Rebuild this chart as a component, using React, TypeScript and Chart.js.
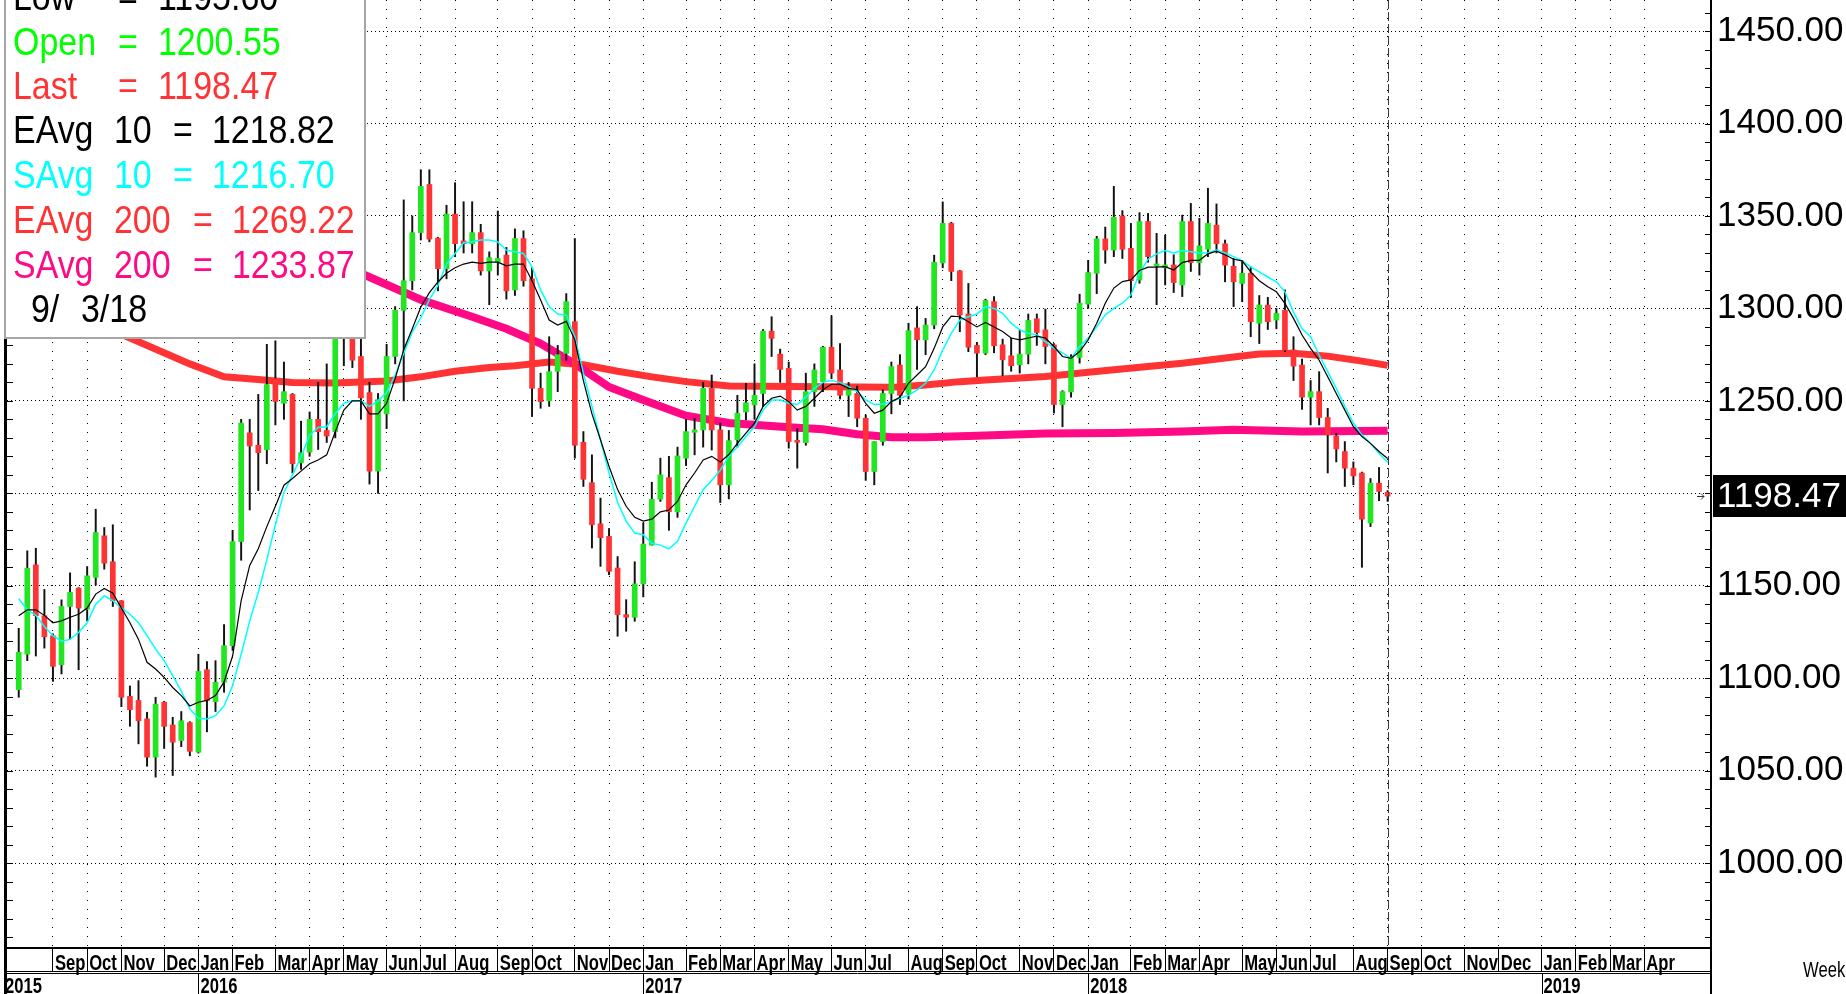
import React, { useEffect, useRef } from 'react';
import { Chart, registerables } from 'chart.js';

Chart.register(...registerables);

const W = 1846;
const H = 994;

// Weekly bars, week index 0 = week of 10 Aug 2015, last = week of 3 Sep 2018
const OPEN = [
  1093.8, 1113, 1161.3, 1133.8, 1123, 1107.3, 1138.8, 1148.7, 1137.4, 1154.5,
  1177, 1163, 1141.9, 1090.2, 1088, 1078, 1057.3, 1087, 1074.7, 1066.3,
  1076, 1060, 1104.6, 1087.3, 1097.8, 1117.6, 1173.9, 1232.7, 1226, 1223.6,
  1262, 1248.7, 1253.6, 1216.5, 1222.3, 1240, 1234, 1233.3, 1288, 1294,
  1274, 1254.5, 1212, 1243, 1274, 1299, 1315, 1341, 1367, 1338,
  1321.5, 1351, 1336.5, 1335, 1341, 1320.3, 1325, 1328.8, 1310, 1337.8,
  1316, 1256.8, 1250, 1266, 1275.7, 1292.8, 1227.6, 1205.8, 1183.5, 1176.7,
  1159.6, 1134.4, 1133, 1151, 1172, 1196.8, 1208.5, 1190, 1219, 1233,
  1234.3, 1256.8, 1234.3, 1204.6, 1229, 1244, 1247.8, 1254, 1287.7, 1275.3,
  1267.6, 1228.5, 1227.4, 1255, 1260.4, 1279, 1266.7, 1253, 1254, 1240.6,
  1211.8, 1228, 1254, 1269.4, 1254, 1289.5, 1283, 1291, 1324.6, 1346,
  1320.3, 1297, 1280, 1275.8, 1303.7, 1280.3, 1274.4, 1269.5, 1275.3, 1294.4,
  1288.4, 1280.3, 1248, 1254.8, 1273.5, 1302.3, 1319, 1337.6, 1331.6, 1350,
  1332.5, 1315.4, 1347, 1323, 1322, 1323.5, 1312.7, 1347, 1324.8, 1332,
  1345, 1335, 1322.8, 1313.5, 1319, 1292, 1301.8, 1293.7, 1299, 1277.5,
  1269.4, 1252, 1255, 1241, 1231, 1222.6, 1213.6, 1211, 1184, 1205.5,
  1200.55,
];
const HIGH = [
  1127, 1168.9, 1170.3, 1148, 1124, 1142.4, 1157, 1149, 1160.4, 1191.4,
  1181.5, 1183, 1142, 1095.8, 1098.7, 1081.6, 1089.7, 1087.5, 1078.9, 1082,
  1076.5, 1113, 1109, 1109.5, 1129, 1180, 1240, 1240, 1253.5, 1280.6,
  1282.5, 1271, 1254, 1239, 1244, 1260, 1270, 1293, 1303, 1296,
  1285, 1260, 1254, 1280.6, 1301, 1358.7, 1350, 1375, 1375, 1338.5,
  1355.8, 1368, 1357.7, 1357.7, 1345.5, 1330.6, 1352.7, 1333, 1343, 1342,
  1322, 1265, 1284.7, 1280, 1308, 1337.8, 1233.4, 1220.8, 1197.4, 1181,
  1165.8, 1142.5, 1163, 1184, 1206, 1219, 1220, 1225, 1240, 1240.6,
  1260, 1264, 1238, 1234, 1253, 1259.5, 1270, 1288.6, 1295.5, 1278,
  1271, 1235, 1265, 1270, 1279.5, 1296, 1281, 1260, 1258, 1242.4,
  1228, 1256, 1271, 1275, 1292, 1301, 1294.6, 1328.8, 1357.6, 1346.6,
  1320.5, 1313.5, 1281.6, 1305, 1306.4, 1283.4, 1284, 1288.4, 1297, 1297,
  1299.6, 1281, 1255.5, 1275, 1307.7, 1326, 1339, 1344, 1366, 1352.9,
  1346, 1351.8, 1351.4, 1340.6, 1339.7, 1329, 1350.5, 1356.8, 1348.7, 1365,
  1356.5, 1337, 1327, 1326, 1322.5, 1307, 1306, 1300, 1310, 1284.7,
  1272.6, 1261, 1265.8, 1246, 1232.5, 1228, 1217, 1211.5, 1208, 1214,
  1201.5,
];
const LOW = [
  1089.7, 1109.5, 1112, 1116.3, 1098.3, 1102.3, 1121, 1104.6, 1131, 1150.3,
  1159, 1138.8, 1084.6, 1074, 1064.5, 1052.4, 1046.5, 1062, 1047.4, 1063,
  1058, 1059.5, 1071, 1082, 1092.4, 1115, 1163.8, 1191, 1201.5, 1216,
  1237, 1240, 1211, 1213, 1220, 1223.7, 1227.5, 1230, 1269, 1268,
  1240, 1205, 1200, 1235, 1270, 1250, 1310, 1337, 1336, 1309.5,
  1316, 1328, 1330, 1330, 1318, 1302, 1318, 1305, 1307, 1312,
  1241.5, 1246, 1247, 1255, 1272, 1219, 1203.7, 1170.4, 1160.5, 1156,
  1122.7, 1125.4, 1130.8, 1144, 1172, 1195.6, 1180, 1187, 1215, 1220.8,
  1225, 1223.4, 1195, 1197, 1225, 1239.7, 1240, 1247, 1274, 1260,
  1224.4, 1213.6, 1226, 1247, 1255, 1262, 1251, 1241.5, 1236, 1207,
  1204.6, 1226, 1243, 1248, 1251, 1267, 1275, 1289, 1322, 1315,
  1287.4, 1276.6, 1263, 1275, 1276, 1263.6, 1266, 1265, 1270, 1280,
  1270, 1243.4, 1236, 1252, 1270.4, 1300, 1308, 1324.4, 1328, 1327,
  1306, 1313.6, 1325, 1302, 1312.7, 1308.6, 1306.4, 1320, 1318, 1328,
  1330, 1314.4, 1301, 1303.6, 1284.7, 1281, 1288.6, 1289, 1276.6, 1261,
  1245.4, 1237, 1237, 1211, 1217, 1203.7, 1204.6, 1160, 1182, 1196,
  1195.6,
];
const CLOSE = [
  1114, 1159.5, 1133.8, 1122.4, 1106.4, 1138.8, 1146.4, 1137.9, 1155.4, 1178.8,
  1162.2, 1141.9, 1089.7, 1083, 1077, 1057.3, 1086, 1074, 1065.4, 1077,
  1060.5, 1103.7, 1087.9, 1097.8, 1117.6, 1173.9, 1238, 1225.6, 1222, 1258.8,
  1249.7, 1255, 1216, 1222, 1240, 1233.3, 1231, 1285.4, 1294, 1272,
  1251.6, 1212, 1250.7, 1274, 1299, 1315, 1341, 1366, 1337.5, 1321.5,
  1351, 1335, 1335, 1341, 1320.3, 1327.5, 1327, 1309.5, 1337.8, 1315,
  1256.8, 1249.6, 1265.8, 1275, 1303.6, 1226, 1207.6, 1183, 1176, 1157.8,
  1134.4, 1133, 1151, 1172.5, 1196.8, 1210, 1190, 1220.2, 1233.4, 1234.3,
  1256.8, 1234.3, 1204.6, 1228.5, 1243.3, 1249, 1253, 1287.7, 1283.8, 1267,
  1228, 1227.6, 1255, 1266.7, 1279, 1265, 1253, 1256, 1240.6, 1211.8,
  1228, 1254, 1268.5, 1253, 1288, 1283, 1291, 1325, 1346, 1320,
  1296.4, 1279, 1275.8, 1304.3, 1279.8, 1272.2, 1269, 1275.3, 1293.5, 1287,
  1279.4, 1248, 1255, 1273.5, 1302.8, 1319.4, 1337.6, 1331.6, 1349.3, 1332,
  1315, 1347, 1328, 1324, 1323.5, 1314, 1347, 1324.8, 1333.8, 1346,
  1335, 1323.4, 1314.4, 1319, 1292.8, 1301.8, 1292.8, 1297.3, 1277.5, 1268.8,
  1252, 1255, 1241, 1231.6, 1224, 1213.6, 1209.4, 1186, 1205.5, 1201,
  1198.47,
];

// 10-week exponential / simple averages per week
const EAVG10 = [
  1133.8, 1137, 1137, 1134, 1130, 1131, 1133, 1134.6, 1138, 1145.5,
  1148.5, 1146, 1138, 1130, 1121, 1108.6, 1105, 1100.5, 1095, 1090.6,
  1085, 1087, 1088, 1090.6, 1098, 1112, 1142, 1161, 1170, 1182,
  1193, 1204.4, 1208, 1212, 1216, 1218, 1220.8, 1233.3, 1245, 1250,
  1250, 1243, 1243, 1248.7, 1262, 1277.7, 1289, 1300.8, 1308.5, 1314.3,
  1319, 1322, 1324, 1325, 1324.4, 1325, 1325, 1323, 1324, 1324,
  1315, 1304.5, 1293.7, 1291, 1293, 1283, 1261, 1243, 1229, 1214.5,
  1202, 1193, 1187, 1185, 1186, 1190, 1191, 1195.6, 1204.6, 1211,
  1218, 1220, 1217, 1221, 1227, 1232.5, 1238, 1247, 1251.4, 1252.6,
  1249.6, 1245, 1247, 1251.4, 1256, 1259, 1259, 1256.8, 1256, 1248.7,
  1243.3, 1245, 1249.6, 1252, 1259.5, 1264, 1268.5, 1278.4, 1290, 1295.8,
  1295.5, 1292.8, 1290, 1292.4, 1290, 1287.5, 1284, 1283, 1284, 1285,
  1284, 1279.4, 1274, 1273, 1276.7, 1283, 1292, 1302.8, 1311, 1314.5,
  1315.4, 1320.5, 1322.3, 1322.3, 1322.6, 1320.8, 1324.8, 1326, 1326, 1329.5,
  1331, 1329, 1326.6, 1325.7, 1319.8, 1315, 1311.7, 1309, 1302.7, 1294.6,
  1285.6, 1278.4, 1272, 1263, 1254, 1245, 1236, 1230.7, 1227, 1222.6,
  1218.82,
];
const SAVG10 = [
  1143, 1137, 1134, 1128, 1123, 1120, 1121, 1124.8, 1130, 1140,
  1144.6, 1142, 1138, 1134.6, 1130, 1123, 1115.8, 1109.5, 1101.4, 1093,
  1083.4, 1078.3, 1078, 1079.8, 1085, 1096, 1113, 1131, 1146.5, 1164,
  1183, 1200.5, 1210, 1219.8, 1231.4, 1235.6, 1236, 1243, 1248.7, 1250,
  1250, 1247, 1250, 1254.5, 1264, 1275.7, 1287.3, 1295, 1304.7, 1312.4,
  1324, 1329.7, 1335.5, 1336, 1337, 1337, 1336, 1331.5, 1330.6, 1329.7,
  1322.5, 1310, 1301, 1297, 1296.4, 1284.7, 1265, 1247, 1229, 1211,
  1195, 1185, 1178.5, 1177.6, 1173, 1172, 1170, 1174, 1184, 1193,
  1202, 1207, 1212.5, 1220, 1225, 1230.7, 1236, 1245, 1250.5, 1250.5,
  1248.7, 1248, 1252, 1256.8, 1260, 1261, 1260, 1257.7, 1255, 1250.5,
  1248, 1248.3, 1249.6, 1251.4, 1253, 1256, 1259.5, 1266.7, 1277.5, 1286.5,
  1293.7, 1295.5, 1297, 1301, 1300, 1297.4, 1292, 1288.4, 1286.6, 1285.7,
  1282, 1278.5, 1276, 1273, 1279.4, 1284, 1290, 1296.5, 1300, 1302.8,
  1307.3, 1319, 1326.6, 1329.5, 1331.3, 1330, 1331.3, 1330.7, 1330, 1330,
  1331.6, 1330, 1328, 1325.7, 1322.5, 1319.8, 1317, 1314.4, 1309, 1298,
  1289, 1284.7, 1274.8, 1265.8, 1256.8, 1247, 1238, 1231.6, 1227, 1221.7,
  1216.7,
];

// 200-week averages, read at sampled weeks
const EAVG200_WEEK = [0, 6, 12, 20, 24, 28, 32, 37, 43, 47, 51, 55, 58, 62, 66, 70, 74, 78, 83, 94, 102, 106, 110, 113, 120, 128, 136, 142, 145, 149, 153, 157, 160];
const EAVG200 = [1310, 1298, 1286, 1270, 1263, 1261.5, 1260, 1259.7, 1260.7, 1263, 1266, 1268, 1269, 1271, 1269.5, 1266, 1263, 1260.4, 1258, 1257.7, 1257.3, 1258.6, 1260.4, 1261.3, 1263.2, 1266.8, 1270.4, 1273.7, 1275.3, 1275.7, 1274.2, 1271.5, 1269.22];
const SAVG200_WEEK = [0, 10, 20, 30, 40, 47, 53, 57, 61, 65, 69, 73, 78, 83, 90, 94, 98, 102, 106, 112, 120, 128, 136, 142, 150, 160];
const SAVG200 = [1372, 1358, 1344, 1331, 1319, 1304.7, 1295.5, 1289, 1281, 1270, 1257.5, 1250.5, 1242, 1238, 1235.7, 1234.6, 1232, 1230.3, 1230.3, 1231.2, 1232.3, 1232.6, 1233.5, 1234.4, 1233.4, 1233.87];

const MONTH_LABELS = [
  'Sep', 'Oct', 'Nov', 'Dec',
  'Jan', 'Feb', 'Mar', 'Apr', 'May', 'Jun', 'Jul', 'Aug', 'Sep', 'Oct', 'Nov', 'Dec',
  'Jan', 'Feb', 'Mar', 'Apr', 'May', 'Jun', 'Jul', 'Aug', 'Sep', 'Oct', 'Nov', 'Dec',
  'Jan', 'Feb', 'Mar', 'Apr', 'May', 'Jun', 'Jul', 'Aug', 'Sep', 'Oct', 'Nov', 'Dec',
  'Jan', 'Feb', 'Mar', 'Apr',
];
const MONTH_WEEK = [
  4, 8, 12, 17,
  21, 25, 30, 34, 38, 43, 47, 51, 56, 60, 65, 69,
  73, 78, 82, 86, 90, 95, 99, 104, 108, 112, 117, 121,
  125, 130, 134, 138, 143, 147, 151, 156, 160, 164, 169, 173,
  178, 182, 186, 190,
];
const YEAR_LABELS = ['2015', '2016', '2017', '2018', '2019'];
const YEAR_WEEK = [-1.37, 21, 73, 125, 178];

const PRICE_LABELS = [1000, 1050, 1100, 1150, 1250, 1300, 1350, 1400, 1450];
const PRICE_STEP = 10;
const PRICE_FIRST_TICK = 960;
const PRICE_LAST_TICK = 1460;

const X_MIN = -1.37;
const X_MAX = 197.8;
const Y_MIN = 954.1;
const Y_MAX = 1466.8;

const GREEN = '#22e622';
const RED = '#ff3333';
const PINK = '#ff0a84';
const CYAN = '#00ffff';
const LIME = '#00ff00';

const Y_TICKS: number[] = [];
for (let v = PRICE_FIRST_TICK; v <= PRICE_LAST_TICK; v += PRICE_STEP) Y_TICKS.push(v);

const FONT = '"Liberation Sans", Arial, Helvetica, sans-serif';

function sqText(ctx: CanvasRenderingContext2D, text: string, x: number, y: number, sx: number) {
  ctx.save();
  ctx.translate(x, y);
  ctx.scale(sx, 1);
  ctx.fillText(text, 0, 0);
  ctx.restore();
}

const last = OPEN.length - 1;

const overlayPlugin = {
  id: 'overlay',
  afterDraw(chart: any) {
    const ctx: CanvasRenderingContext2D = chart.ctx;
    const xs = chart.scales.x;
    const ys = chart.scales.y;
    const a = chart.chartArea;
    ctx.save();

    // last-bar dashed vertical marker
    const xl = Math.round(xs.getPixelForValue(last)) + 0.5;
    ctx.strokeStyle = '#3a3a3a';
    ctx.lineWidth = 1;
    ctx.setLineDash([9, 3]);
    ctx.beginPath();
    ctx.moveTo(xl, 0);
    ctx.lineTo(xl, a.bottom);
    ctx.stroke();
    ctx.setLineDash([]);

    // axis frame lines
    ctx.strokeStyle = '#000';
    ctx.lineWidth = 2;
    ctx.beginPath();
    ctx.moveTo(a.right, a.bottom);
    ctx.lineTo(a.right, H);
    ctx.stroke();
    ctx.lineWidth = 3;
    ctx.beginPath();
    ctx.moveTo(a.left - 1.5, 0);
    ctx.lineTo(a.left - 1.5, H);
    ctx.stroke();

    // inner minor ticks on both price axes
    ctx.lineWidth = 1;
    ctx.beginPath();
    Y_TICKS.forEach((v) => {
      const y = Math.round(ys.getPixelForValue(v)) + 0.5;
      ctx.moveTo(a.left, y);
      ctx.lineTo(a.left + 6, y);
      ctx.moveTo(a.right - 6, y);
      ctx.lineTo(a.right, y);
    });
    ctx.stroke();

    // divider between month row and year row
    ctx.beginPath();
    ctx.moveTo(a.left - 3, 971.5);
    ctx.lineTo(a.right, 971.5);
    ctx.moveTo(a.left - 3, 973.5);
    ctx.lineTo(a.right, 973.5);
    ctx.stroke();

    // year separators
    ctx.beginPath();
    YEAR_WEEK.forEach((w, i) => {
      if (i === 0) return;
      const x = Math.round(xs.getPixelForValue(w)) + 0.5;
      ctx.moveTo(x, 973);
      ctx.lineTo(x, H);
    });
    ctx.stroke();

    // month / year labels (condensed face)
    ctx.fillStyle = '#000';
    ctx.textBaseline = 'alphabetic';
    ctx.textAlign = 'left';
    ctx.font = 'bold 22px ' + FONT;
    const sx = 37 / ctx.measureText('2016').width;
    MONTH_LABELS.forEach((m, i) => {
      sqText(ctx, m, xs.getPixelForValue(MONTH_WEEK[i]) + 2, 969.5, sx);
    });
    YEAR_LABELS.forEach((yl, i) => {
      const x = i === 0 ? a.left - 2 : xs.getPixelForValue(YEAR_WEEK[i]) + 2;
      sqText(ctx, yl, x, 993, sx);
    });
    ctx.font = '22px ' + FONT;
    sqText(ctx, 'Weekly', 1803, 977, sx);

    // last price box on the right axis
    const yc = ys.getPixelForValue(CLOSE[last]);
    ctx.fillStyle = '#000';
    ctx.fillRect(a.right + 2, Math.round(yc - 21), W - a.right - 2, 42);
    ctx.fillStyle = '#fff';
    ctx.textBaseline = 'middle';
    ctx.font = '35px ' + FONT;
    ctx.fillText(CLOSE[last].toFixed(2), a.right + 6, yc + 1);

    // small arrow pointing at the axis
    ctx.strokeStyle = '#333';
    ctx.lineWidth = 1;
    ctx.beginPath();
    ctx.moveTo(a.right - 14, Math.round(yc) + 0.5);
    ctx.lineTo(a.right - 7, Math.round(yc) + 0.5);
    ctx.moveTo(a.right - 10, Math.round(yc) - 2.5);
    ctx.lineTo(a.right - 7, Math.round(yc) + 0.5);
    ctx.lineTo(a.right - 10, Math.round(yc) + 3.5);
    ctx.stroke();

    // data window box
    ctx.fillStyle = '#fff';
    ctx.fillRect(5, -4, 360, 342);
    ctx.strokeStyle = '#a6a6a6';
    ctx.lineWidth = 2;
    ctx.strokeRect(5, -4, 360, 342);
    ctx.textBaseline = 'alphabetic';
    ctx.font = '39px ' + FONT;
    const k = 0.87;
    const rows: { parts: [string, number][]; color: string; y: number }[] = [
      { parts: [['Low', 13], ['=', 118], [LOW[last].toFixed(2), 158]], color: '#000', y: 10 },
      { parts: [['Open', 13], ['=', 118], [OPEN[last].toFixed(2), 158]], color: LIME, y: 55 },
      { parts: [['Last', 13], ['=', 118], [CLOSE[last].toFixed(2), 158]], color: RED, y: 99 },
      { parts: [['EAvg', 13], ['10', 114], ['=', 173], [EAVG10[last].toFixed(2), 212]], color: '#000', y: 143 },
      { parts: [['SAvg', 13], ['10', 114], ['=', 173], [SAVG10[last].toFixed(2), 212]], color: CYAN, y: 188 },
      { parts: [['EAvg', 13], ['200', 114], ['=', 193], [EAVG200[EAVG200.length - 1].toFixed(2), 232]], color: RED, y: 233 },
      { parts: [['SAvg', 13], ['200', 114], ['=', 193], [SAVG200[SAVG200.length - 1].toFixed(2), 232]], color: PINK, y: 278 },
      { parts: [['9/', 31], ['3/18', 81]], color: '#000', y: 322 },
    ];
    rows.forEach((r) => {
      ctx.fillStyle = r.color;
      r.parts.forEach(([t, x]) => sqText(ctx, t, x, r.y, k));
    });

    ctx.restore();
  },
};

export default function App() {
  const ref = useRef<HTMLCanvasElement>(null);

  useEffect(() => {
    const canvas = ref.current;
    if (!canvas) return;
    const bodyColors = OPEN.map((o, i) => (CLOSE[i] >= o ? GREEN : RED));
    const chart = new Chart(canvas, {
      type: 'bar',
      data: {
        datasets: [
          {
            type: 'line',
            label: 'EAvg 200',
            data: EAVG200_WEEK.map((w, i) => ({ x: w, y: EAVG200[i] })),
            borderColor: RED,
            borderWidth: 7,
            pointRadius: 0,
            tension: 0,
            fill: false,
            order: 6,
          } as any,
          {
            type: 'line',
            label: 'SAvg 200',
            data: SAVG200_WEEK.map((w, i) => ({ x: w, y: SAVG200[i] })),
            borderColor: PINK,
            borderWidth: 8,
            pointRadius: 0,
            tension: 0,
            fill: false,
            order: 5,
          } as any,
          {
            type: 'bar',
            label: 'Range',
            data: LOW.map((l, i) => ({ x: i, y: [l, HIGH[i]] })),
            backgroundColor: '#111',
            borderWidth: 0,
            barThickness: 1.3,
            grouped: false,
            order: 4,
          } as any,
          {
            type: 'bar',
            label: 'Body',
            data: OPEN.map((o, i) => ({ x: i, y: [o, CLOSE[i]] })),
            backgroundColor: bodyColors,
            borderWidth: 0,
            barThickness: 5,
            minBarLength: 2,
            grouped: false,
            order: 3,
          } as any,
          {
            type: 'line',
            label: 'SAvg 10',
            data: SAVG10.map((v, i) => ({ x: i, y: v })),
            borderColor: CYAN,
            borderWidth: 1.5,
            pointRadius: 0,
            tension: 0,
            fill: false,
            order: 2,
          } as any,
          {
            type: 'line',
            label: 'EAvg 10',
            data: EAVG10.map((v, i) => ({ x: i, y: v })),
            borderColor: '#000',
            borderWidth: 1.2,
            pointRadius: 0,
            tension: 0,
            fill: false,
            order: 1,
          } as any,
        ],
      },
      options: {
        animation: false,
        responsive: false,
        maintainAspectRatio: false,
        devicePixelRatio: 1,
        events: [],
        layout: { padding: { left: 7, right: 0, top: 0, bottom: 0 } },
        plugins: {
          legend: { display: false },
          tooltip: { enabled: false },
          title: { display: false },
        },
        scales: {
          x: {
            type: 'linear',
            position: 'bottom',
            min: X_MIN,
            max: X_MAX,
            offset: false,
            afterBuildTicks: (s: any) => {
              s.ticks = MONTH_WEEK.map((v) => ({ value: v }));
            },
            afterFit: (s: any) => {
              s.height = 46;
              s.paddingLeft = 0;
              s.paddingRight = 0;
            },
            ticks: { display: false },
            grid: {
              offset: false,
              color: '#000',
              lineWidth: 1,
              drawTicks: true,
              tickLength: 24,
              tickColor: '#000',
              tickWidth: 1,
            },
            border: { display: true, color: '#000', width: 2, dash: [1, 8] },
          },
          y: {
            type: 'linear',
            position: 'right',
            min: Y_MIN,
            max: Y_MAX,
            beginAtZero: false,
            afterBuildTicks: (s: any) => {
              s.ticks = Y_TICKS.map((v) => ({ value: v }));
            },
            afterFit: (s: any) => {
              s.width = 135;
              s.paddingTop = 0;
              s.paddingBottom = 0;
            },
            ticks: {
              autoSkip: false,
              padding: 6,
              color: '#000',
              font: { family: FONT, size: 35 },
              callback: (v: any) => (PRICE_LABELS.includes(Number(v)) ? Number(v).toFixed(2) : ''),
            },
            grid: {
              color: (c: any) => (c.tick && c.tick.value % 50 === 0 ? '#000' : 'rgba(0,0,0,0)'),
              lineWidth: 1,
              drawTicks: false,
            },
            border: { display: true, color: '#000', width: 2, dash: [1, 3] },
          },
        },
      } as any,
      plugins: [overlayPlugin],
    });
    return () => chart.destroy();
  }, []);

  return (
    <div style={{ position: 'fixed', left: 0, top: 0, width: W, height: H, background: '#fff' }}>
      <canvas ref={ref} width={W} height={H} style={{ display: 'block', width: W, height: H }} />
    </div>
  );
}
